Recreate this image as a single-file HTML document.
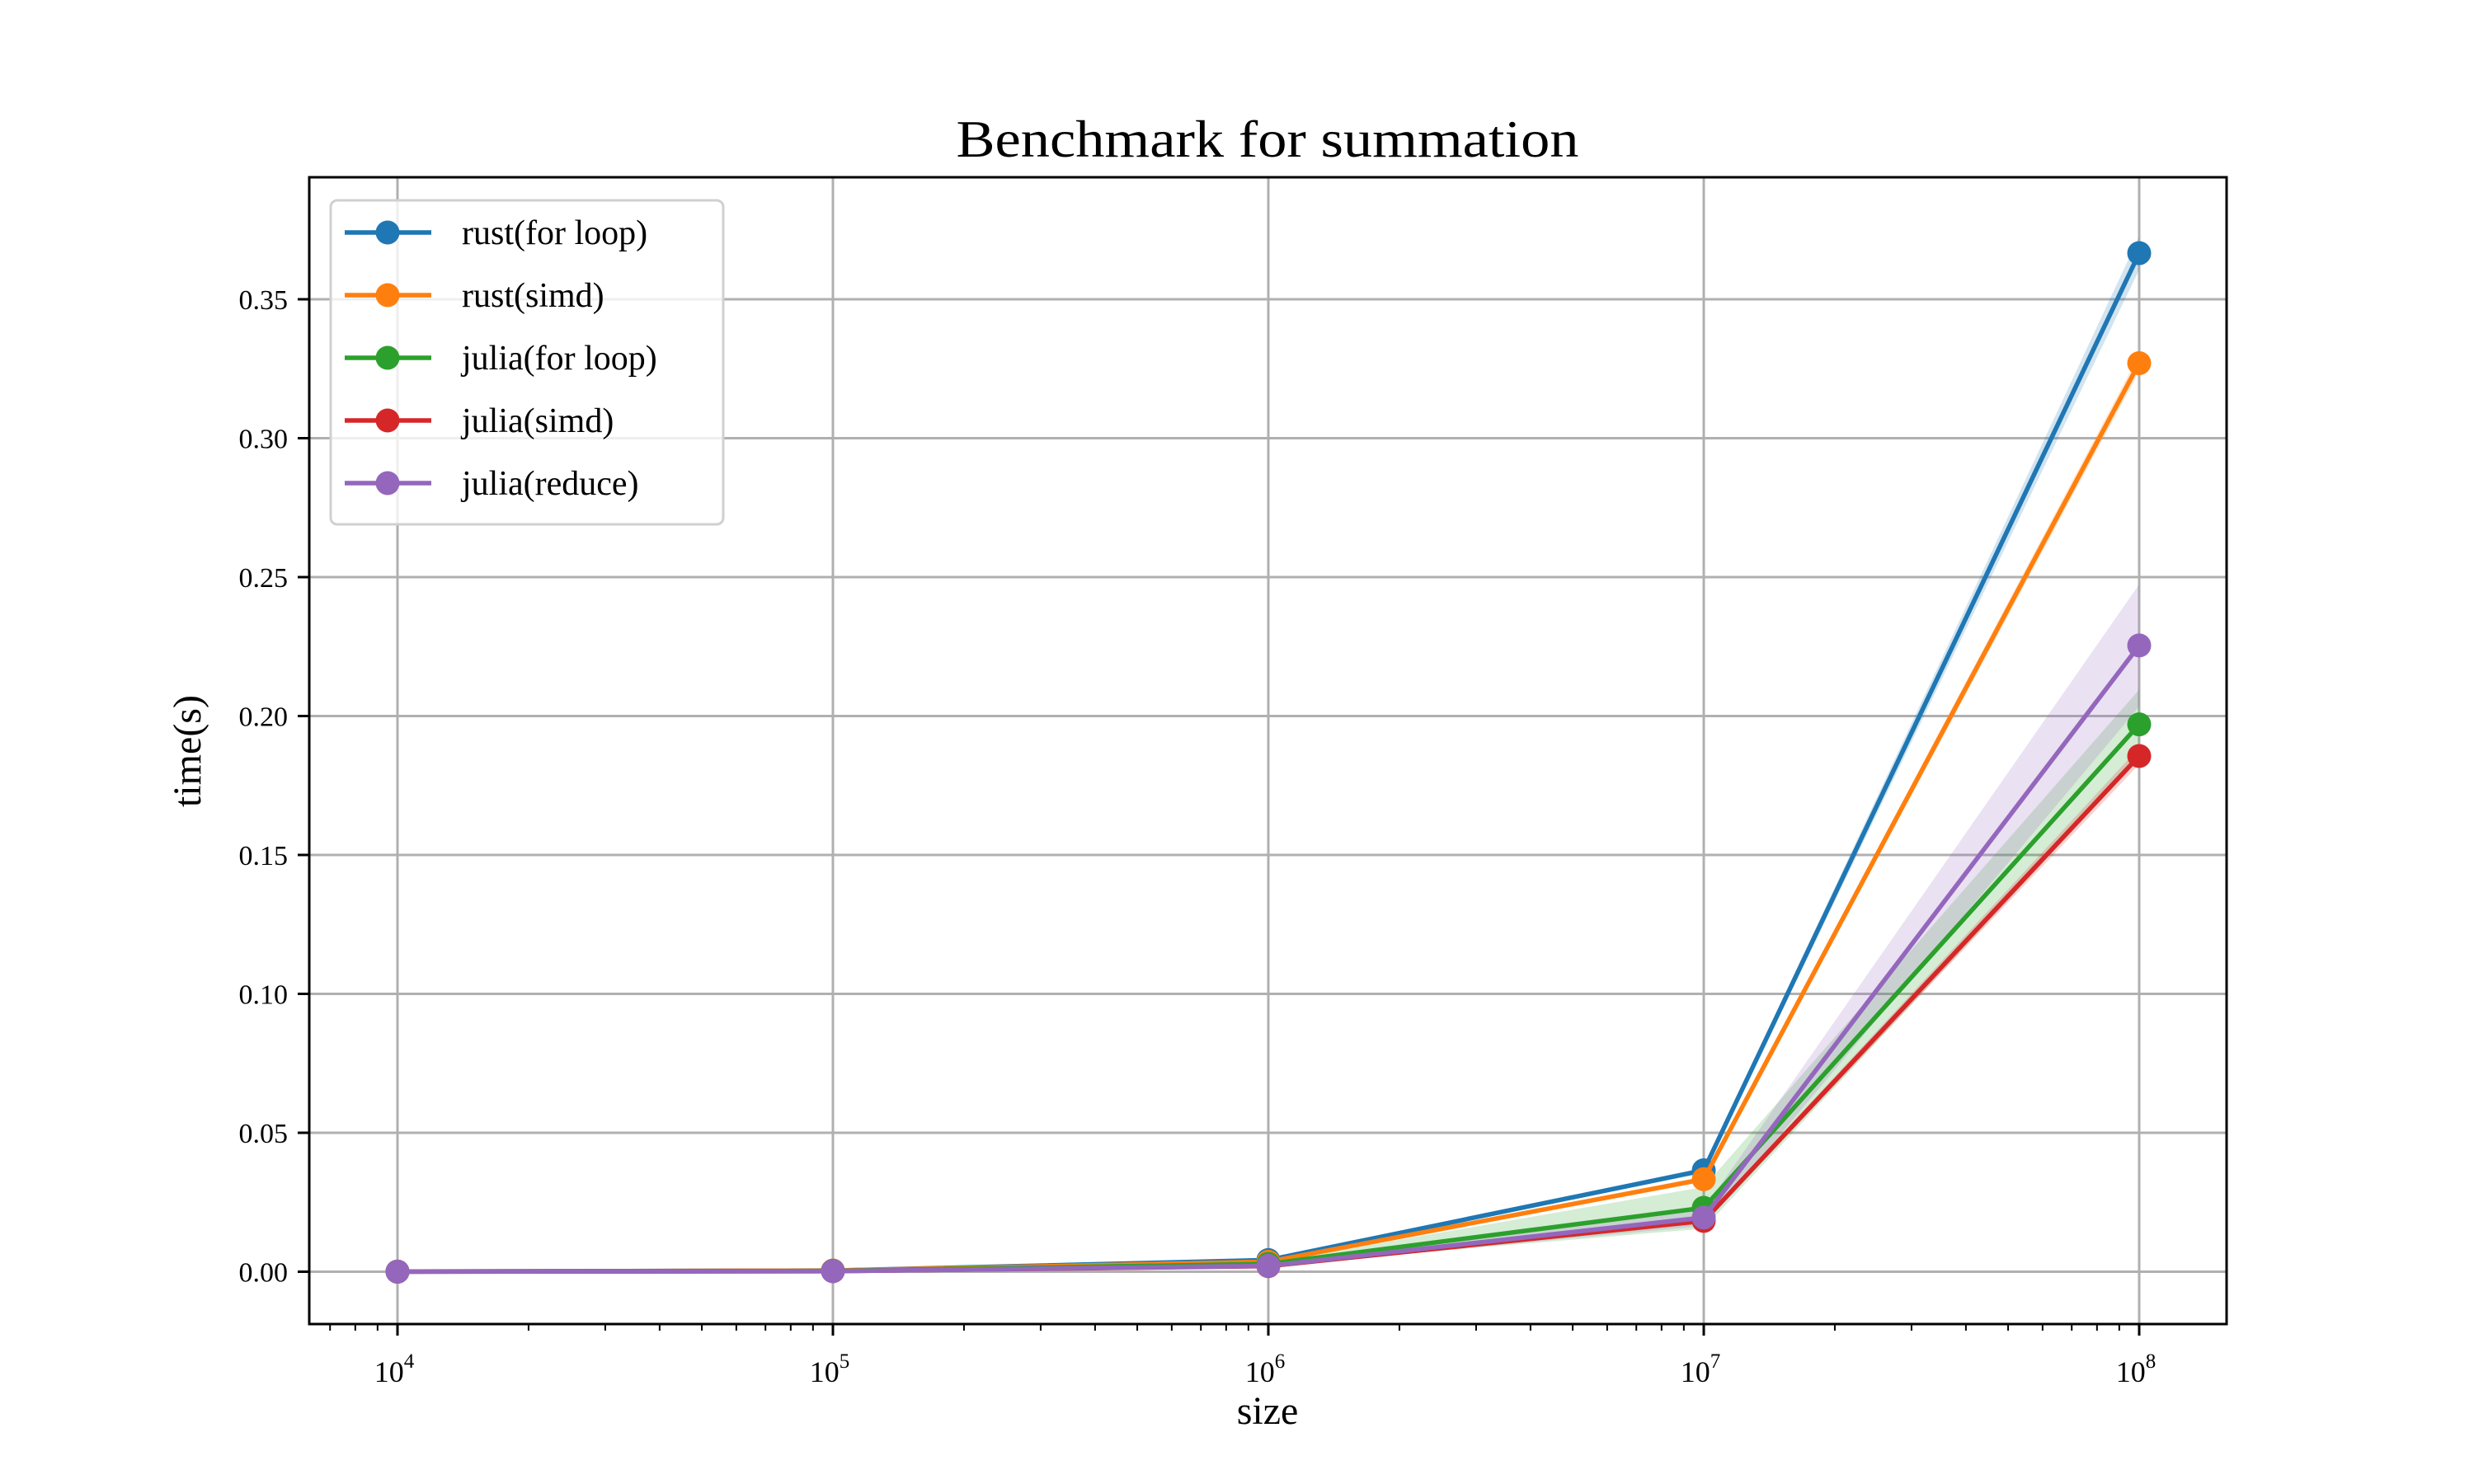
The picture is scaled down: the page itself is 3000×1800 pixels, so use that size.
<!DOCTYPE html>
<html><head><meta charset="utf-8"><style>body{margin:0;background:#fff}svg{display:block}text{font-family:"Liberation Serif",serif;fill:#000}</style></head>
<body>
<svg id="chart" width="3000" height="1800" viewBox="0 0 3000 1800" xmlns="http://www.w3.org/2000/svg">
<rect width="3000" height="1800" fill="#fff"/>
<g id="grid"></g><g id="bands"></g><g id="lines"></g><g id="axes"></g><g id="legend"></g>
<text x="1537" y="190" font-size="64" text-anchor="middle" textLength="755" lengthAdjust="spacingAndGlyphs">Benchmark for summation</text>
<text x="1537" y="1727" font-size="48" text-anchor="middle">size</text>
<text transform="translate(243,911) rotate(-90)" font-size="48" text-anchor="middle">time(s)</text>
</svg>
<script>
const sizes = [1e4, 1e5, 1e6, 1e7, 1e8];
const seriesNames = ["rust(for loop)", "rust(simd)", "julia(for loop)", "julia(simd)", "julia(reduce)"];
const seriesColors = ["#1f77b4", "#ff7f0e", "#2ca02c", "#d62728", "#9467bd"];
const rustFor = [0.00004, 0.0004, 0.0042, 0.0365, 0.3666];
const rustSimd = [0.00004, 0.0004, 0.0036, 0.0333, 0.327];
const juliaFor = [0.00003, 0.0003, 0.0028, 0.023, 0.197];
const juliaSimd = [0.00002, 0.0002, 0.0020, 0.0183, 0.1856];
const juliaReduce = [0.00002, 0.0002, 0.0021, 0.0195, 0.2254];
const rustForErr = [0.00001, 0.00005, 0.0003, 0.0010, 0.0060];
const rustSimdErr = [0.00001, 0.00005, 0.0003, 0.0010, 0.0030];
const juliaForErr = [0.00001, 0.00005, 0.0005, 0.0075, 0.0125];
const juliaSimdErr = [0.00001, 0.00005, 0.0003, 0.0010, 0.0030];
const juliaReduceErr = [0.00001, 0.00005, 0.0003, 0.0030, 0.0220];
const yTicks = [0, 0.05, 0.10, 0.15, 0.20, 0.25, 0.30, 0.35];
const yTickLabels = ["0.00", "0.05", "0.10", "0.15", "0.20", "0.25", "0.30", "0.35"];
const xTickExps = [4, 5, 6, 7, 8];

const NS = "http://www.w3.org/2000/svg";
const L = 375, R = 2700, T = 215, B = 1606;
const xs = v => 482 + (Math.log10(v) - 4) * 528;
const ys = v => 1542.5 - v * 3370;
function mk(tag, attrs, parent) { const e = document.createElementNS(NS, tag); for (const k in attrs) e.setAttribute(k, attrs[k]); parent.appendChild(e); return e; }
const grid = document.getElementById('grid'), bands = document.getElementById('bands'), lines = document.getElementById('lines'), axes = document.getElementById('axes'), legend = document.getElementById('legend');

yTicks.forEach((t, i) => {
  const y = ys(t);
  const g = mk('line', {x1: L, x2: R, y1: y, y2: y, stroke: '#b0b0b0', 'stroke-width': 3}, grid);
  
  
  mk('line', {x1: L - 14, x2: L, y1: y, y2: y, stroke: '#000', 'stroke-width': 3}, axes);
  const tx = mk('text', {x: L - 26, y: y + 12, 'font-size': 34, 'text-anchor': 'end'}, axes);
  tx.textContent = yTickLabels[i];
  
  
});
xTickExps.forEach(e => {
  const x = xs(Math.pow(10, e));
  const g = mk('line', {x1: x, x2: x, y1: T, y2: B, stroke: '#b0b0b0', 'stroke-width': 3}, grid);
  
  
  mk('line', {x1: x, x2: x, y1: B, y2: B + 14, stroke: '#000', 'stroke-width': 3}, axes);
  const tx = mk('text', {x: x - 4, y: B + 70, 'font-size': 36, 'text-anchor': 'middle'}, axes);
  
  
  tx.textContent = '10';
  const sup = mk('tspan', {dy: -17, 'font-size': 25}, tx);
  sup.textContent = String(e);
});
for (let e = 3; e <= 8; e++) for (let m = 2; m <= 9; m++) {
  const x = xs(m * Math.pow(10, e));
  if (x < L || x > R) continue;
  mk('line', {x1: x, x2: x, y1: B, y2: B + 8, stroke: '#000', 'stroke-width': 2}, axes);
}
const fr = mk('rect', {x: L, y: T, width: R - L, height: B - T, fill: 'none', stroke: '#000', 'stroke-width': 3}, axes);



const allVals = [rustFor, rustSimd, juliaFor, juliaSimd, juliaReduce];
const allErr = [rustForErr, rustSimdErr, juliaForErr, juliaSimdErr, juliaReduceErr];
allVals.forEach((vals, s) => {
  const up = sizes.map((x, i) => xs(x) + ',' + ys(vals[i] + allErr[s][i]));
  const dn = sizes.map((x, i) => xs(x) + ',' + ys(Math.max(0, vals[i] - allErr[s][i]))).reverse();
  const band = mk('polygon', {points: up.concat(dn).join(' '), fill: seriesColors[s], 'fill-opacity': 0.2}, bands);
  
  
});
allVals.forEach((vals, s) => {
  const pl = mk('polyline', {points: sizes.map((x, i) => xs(x) + ',' + ys(vals[i])).join(' '), fill: 'none', stroke: seriesColors[s], 'stroke-width': 5.5, 'stroke-linejoin': 'round'}, lines);
  
  
  sizes.forEach((x, i) => {
    const c = mk('circle', {cx: xs(x), cy: ys(vals[i]), r: 14.5, fill: seriesColors[s]}, lines);
    
    
  });
});

const lb = mk('rect', {x: 401, y: 243, width: 476, height: 393, rx: 8, fill: '#fff', 'fill-opacity': 0.8, stroke: '#d0d0d0', 'stroke-width': 3}, legend);


seriesNames.forEach((n, s) => {
  const y = 282 + s * 76;
  const g = mk('g', {}, legend);
  
  
  mk('line', {x1: 418, x2: 523, y1: y, y2: y, stroke: seriesColors[s], 'stroke-width': 5.5}, g);
  mk('circle', {cx: 470, cy: y, r: 14.5, fill: seriesColors[s]}, g);
  const t = mk('text', {x: 560, y: y + 14, 'font-size': 42}, g);
  t.textContent = n;
});
</script>
</body></html>
